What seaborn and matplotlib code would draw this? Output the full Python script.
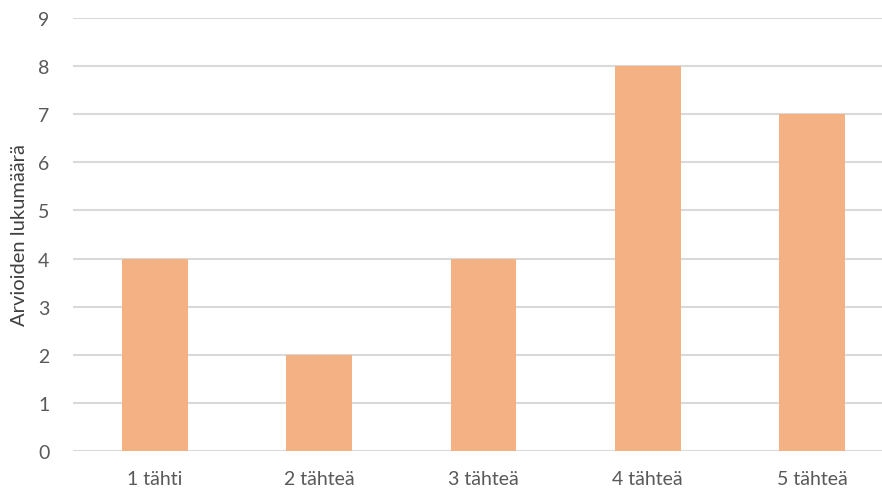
import matplotlib
matplotlib.use("Agg")
import matplotlib.pyplot as plt
import seaborn as sns
import pandas as pd

categories = ["1 tähti", "2 tähteä", "3 tähteä", "4 tähteä", "5 tähteä"]
counts = [4, 2, 4, 8, 7]
y_ticks = [0, 1, 2, 3, 4, 5, 6, 7, 8, 9]

sns.set_theme(style="white")
plt.rcParams["font.family"] = ["Lato", "DejaVu Sans"]

df = pd.DataFrame({"Arvosana": categories, "Arviot": counts})

W, H = 882, 489
fig = plt.figure(figsize=(W / 100, H / 100), dpi=100)
left, right = 73, 894
top, bottom = 19, 452
ax = fig.add_axes([left / W, 1 - bottom / H, (right - left) / W, (bottom - top) / H])

sns.barplot(data=df, x="Arvosana", y="Arviot", ax=ax,
            color="#F4B183", saturation=1, width=0.40, edgecolor="none")

ax.set_ylim(0, 9)
ax.set_xlim(-0.5, len(categories) - 0.5)
ax.set_yticks(y_ticks)
ax.yaxis.grid(True, color="#D9D9D9", linewidth=1.5)
ax.set_axisbelow(True)
for s in ax.spines.values():
    s.set_visible(False)
ax.tick_params(axis="both", length=0, labelsize=14, labelcolor="#595959")
ax.tick_params(axis="x", pad=14)
ax.tick_params(axis="y", pad=17)
ax.set_xlabel("")
ax.set_ylabel("Arvioiden lukumäärä", fontsize=14.5, color="#404040")
ax.yaxis.set_label_coords((28 - left) / (right - left), 0.5)

fig.savefig("out.png", dpi=100)
